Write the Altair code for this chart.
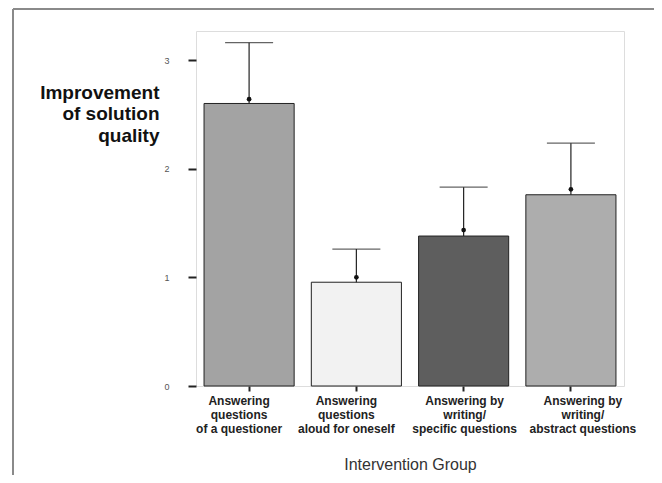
import altair as alt
import pandas as pd

categories = [
    "Answering\nquestions\nof a questioner",
    "Answering\nquestions\naloud for oneself",
    "Answering by\nwriting/\nspecific questions",
    "Answering by\nwriting/\nabstract questions",
]
bar_values = [2.60, 0.955, 1.38, 1.76]
mean_points = [2.64, 1.00, 1.435, 1.81]
upper_error = [3.16, 1.26, 1.83, 2.235]
bar_fills = ["#a3a3a3", "#f2f2f2", "#5e5e5e", "#adadad"]
y_ticks = [0, 1, 2, 3]

df = pd.DataFrame({
    "group": categories,
    "bar": bar_values,
    "mean": mean_points,
    "upper": upper_error,
})

x_enc = alt.X(
    "group:N",
    sort=categories,
    scale=alt.Scale(paddingInner=0.16, paddingOuter=0.075),
    axis=alt.Axis(
        title="Intervention Group",
        titleFontSize=16,
        titleFontWeight="normal",
        titleColor="#333333",
        titleFont="Liberation Sans",
        titleBaseline="middle",
        titleY=78,
        labelExpr="split(datum.label, '\\n')",
        labelAngle=0,
        labelFont="Liberation Sans",
        labelFontSize=12,
        labelFontWeight="bold",
        labelColor="#222222",
        labelLineHeight=14,
        labelPadding=4,
        labelOffset={"expr": "datum.index < 0.5 ? -10 : (datum.index < 0.9 ? 1 : 12)"},
        labelBaseline="top",
        tickSize=5,
        tickWidth=2,
        tickColor="#222222",
        domain=False,
    ),
)

y_scale = alt.Scale(domain=[0, 3.267], nice=False, zero=True)

bars = alt.Chart(df).mark_bar(stroke="#222222", strokeWidth=1).encode(
    x=x_enc,
    y=alt.Y(
        "bar:Q",
        scale=y_scale,
        axis=alt.Axis(
            values=y_ticks,
            format="d",
            tickSize=8,
            tickWidth=2,
            tickColor="#222222",
            labelPadding=19,
            labelFontSize=9,
            labelColor="#555555",
            labelFont="Liberation Sans",
            domain=False,
            grid=False,
            title=["Improvement", "of solution", "quality"],
            titleAngle=0,
            titleAlign="right",
            titleBaseline="top",
            titleX=-37,
            titleY=52,
            titleFont="Liberation Sans",
            titleFontSize=19,
            titleFontWeight="bold",
            titleLineHeight=21.5,
            titleColor="#111111",
        ),
    ),
    fill=alt.Fill("group:N", sort=categories,
                  scale=alt.Scale(domain=categories, range=bar_fills), legend=None),
)

err_line = alt.Chart(df).mark_rule(color="#222222", strokeWidth=1.2).encode(
    x=alt.X("group:N", sort=categories),
    y=alt.Y("bar:Q", scale=y_scale),
    y2="upper:Q",
)

caps = alt.Chart(df).mark_tick(color="#222222", size=48, thickness=1.3).encode(
    x=alt.X("group:N", sort=categories),
    y=alt.Y("upper:Q", scale=y_scale),
)

points = alt.Chart(df).mark_point(filled=True, color="#111111", size=22, opacity=1).encode(
    x=alt.X("group:N", sort=categories),
    y=alt.Y("mean:Q", scale=y_scale),
)

frame_left = alt.Chart(df).mark_rule(color="#8a8a8a", strokeWidth=2).encode(
    x=alt.value(-183), y=alt.value(-22), y2=alt.value(452)
)
frame_top = alt.Chart(df).mark_rule(color="#8a8a8a", strokeWidth=2).encode(
    x=alt.value(-183), x2=alt.value(470), y=alt.value(-22)
)

chart = alt.layer(bars, err_line, caps, points, frame_left, frame_top).properties(
    width=428,
    height=355,
    autosize=alt.AutoSizeParams(type="none"),
    padding={"left": 188, "top": 23, "right": 30, "bottom": 89},
).configure_view(
    stroke="#9a9a9a", strokeWidth=2
).configure(background="white")

chart.save("out.html", embed_options={"renderer": "svg", "actions": False})
